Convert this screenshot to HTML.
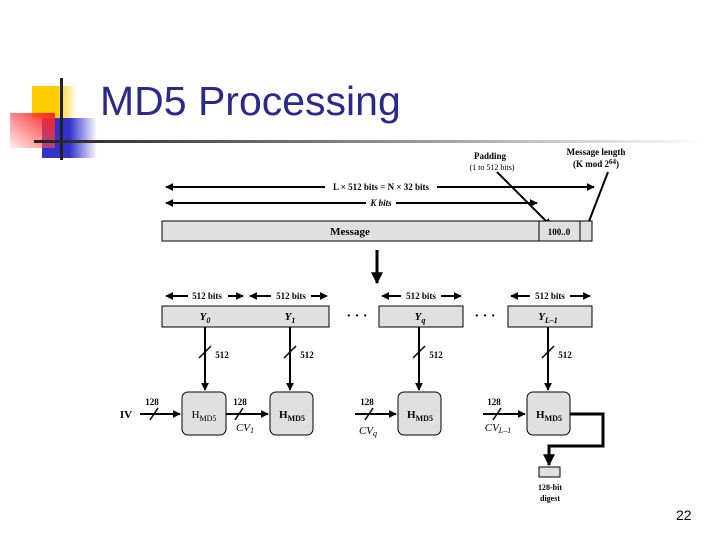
<!DOCTYPE html>
<html><head><style>
body{margin:0;width:720px;height:540px;background:#fff;overflow:hidden;position:relative;font-family:"Liberation Serif",serif}
.a{position:absolute}
</style></head><body>
<div class="a" style="left:32px;top:86px;width:45px;height:32px;background:linear-gradient(to right,#ffcc00 55%,#fff)"></div>
<div class="a" style="left:42px;top:118px;width:55px;height:40px;background:linear-gradient(to right,#3333cc 50%,#fff)"></div>
<div class="a" style="left:10px;top:113px;width:45px;height:35px;background:linear-gradient(to bottom left,#ff2020,rgba(255,200,200,0.3))"></div>
<div class="a" style="left:60px;top:78px;width:3px;height:82px;background:#222"></div>
<div class="a" style="left:34px;top:140px;width:670px;height:3px;background:linear-gradient(to right,#222,#888 50%,#fff)"></div>
<div class="a" style="left:100px;top:78px;font-family:'Liberation Sans',sans-serif;font-size:41px;color:#2a2a8a">MD5 Processing</div>
<div class="a" style="left:676px;top:507px;font-family:'Liberation Sans',sans-serif;font-size:14px">22</div>
<svg class="a" style="left:0;top:0" width="720" height="540" font-family="Liberation Serif" font-weight="bold" font-size="9">
<defs><marker id="m" viewBox="0 0 10 10" refX="9" refY="5" markerWidth="4" markerHeight="4" orient="auto-start-reverse"><path d="M0,0L10,5L0,10z"/></marker></defs>
<g stroke="#000" stroke-width="2" fill="none">
<line x1="166" y1="187" x2="594" y2="187" marker-start="url(#m)" marker-end="url(#m)"/>
<line x1="166" y1="203" x2="537" y2="203" marker-start="url(#m)" marker-end="url(#m)"/>
<line x1="497" y1="172" x2="551" y2="226" marker-end="url(#m)"/>
<line x1="608" y1="172" x2="586" y2="229" marker-end="url(#m)"/>
<line x1="377" y1="250" x2="377" y2="283" stroke-width="3" marker-end="url(#m)"/>
<line x1="166" y1="296" x2="243" y2="296" marker-start="url(#m)" marker-end="url(#m)"/>
<line x1="250" y1="296" x2="327" y2="296" marker-start="url(#m)" marker-end="url(#m)"/>
<line x1="382" y1="296" x2="461" y2="296" marker-start="url(#m)" marker-end="url(#m)"/>
<line x1="511" y1="296" x2="590" y2="296" marker-start="url(#m)" marker-end="url(#m)"/>
<line x1="205" y1="327" x2="205" y2="390" marker-end="url(#m)"/>
<line x1="290" y1="327" x2="290" y2="390" marker-end="url(#m)"/>
<line x1="419" y1="327" x2="419" y2="390" marker-end="url(#m)"/>
<line x1="548" y1="327" x2="548" y2="390" marker-end="url(#m)"/>
<line x1="140" y1="414" x2="180" y2="414" marker-end="url(#m)"/>
<line x1="226" y1="414" x2="268" y2="414" marker-end="url(#m)"/>
<line x1="355" y1="414" x2="396" y2="414" marker-end="url(#m)"/>
<line x1="483" y1="414" x2="525" y2="414" marker-end="url(#m)"/>
<polyline points="570,414 603,414 603,446 549,446 549,465" stroke-width="3" marker-end="url(#m)"/>
</g>
<g stroke="#000" stroke-width="1.5">
<line x1="199" y1="358" x2="211" y2="346"/><line x1="284" y1="358" x2="296" y2="346"/>
<line x1="413" y1="358" x2="425" y2="346"/><line x1="542" y1="358" x2="554" y2="346"/>
<line x1="150" y1="420" x2="158" y2="408"/><line x1="235" y1="420" x2="243" y2="408"/>
<line x1="365" y1="420" x2="373" y2="408"/><line x1="493" y1="420" x2="501" y2="408"/>
</g>
<g fill="#e0e0e0" stroke="#000" stroke-width="1">
<rect x="162" y="221" width="430" height="20"/>
<line x1="539" y1="221" x2="539" y2="241"/><line x1="580" y1="221" x2="580" y2="241"/>
<rect x="162" y="306" width="167" height="21"/>
<rect x="379" y="306" width="84" height="21"/>
<rect x="508" y="306" width="84" height="21"/>
<rect x="182" y="392" width="44" height="43" rx="6"/>
<rect x="270" y="392" width="43" height="43" rx="6"/>
<rect x="398" y="392" width="43" height="43" rx="6"/>
<rect x="527" y="392" width="43" height="43" rx="6"/>
<rect x="539" y="467" width="21" height="10"/>
</g>
<g text-anchor="middle">
<rect x="325" y="181" width="112" height="12" fill="#fff"/>
<text x="381" y="190">L × 512 bits = N × 32 bits</text>
<rect x="366" y="197" width="30" height="12" fill="#fff"/>
<text x="381" y="206" font-style="italic">K bits</text>
<text x="490" y="159">Padding</text>
<text x="492" y="170" font-weight="normal" font-size="8">(1 to 512 bits)</text>
<text x="596" y="155">Message length</text>
<text x="596" y="167">(K mod 2<tspan font-size="7" dy="-3">64</tspan><tspan dy="3">)</tspan></text>
<text x="350" y="235" font-size="11">Message</text>
<text x="559" y="235">100..0</text>
<g fill="#fff"><rect x="188" y="290" width="40" height="12"/><rect x="271" y="290" width="40" height="12"/><rect x="401" y="290" width="40" height="12"/><rect x="530" y="290" width="40" height="12"/></g>
<text x="207" y="299">512 bits</text><text x="291" y="299">512 bits</text><text x="421" y="299">512 bits</text><text x="550" y="299">512 bits</text>
<g font-style="italic" font-size="11"><text x="205" y="320">Y<tspan font-size="8" dy="3">0</tspan></text><text x="290" y="320">Y<tspan font-size="8" dy="3">1</tspan></text><text x="420" y="320">Y<tspan font-size="8" dy="3">q</tspan></text><text x="548" y="320">Y<tspan font-size="8" dy="3">L–1</tspan></text></g>
<text x="357" y="320" font-size="14">· · ·</text><text x="485" y="320" font-size="14">· · ·</text>
<text x="222" y="358">512</text><text x="307" y="358">512</text><text x="436" y="358">512</text><text x="565" y="358">512</text>
<text x="152" y="405">128</text><text x="240" y="405">128</text><text x="367" y="405">128</text><text x="494" y="405">128</text>
<text x="126" y="418" font-size="11">IV</text>
<g font-size="11" font-weight="normal"><text x="204" y="418">H<tspan font-size="8" dy="3">MD5</tspan></text></g>
<g font-size="11"><text x="292" y="418">H<tspan font-size="8" dy="3">MD5</tspan></text><text x="420" y="418">H<tspan font-size="8" dy="3">MD5</tspan></text><text x="549" y="418">H<tspan font-size="8" dy="3">MD5</tspan></text></g>
<g font-style="italic" font-weight="normal" font-size="11"><text x="245" y="431">CV<tspan font-size="8" dy="2">1</tspan></text><text x="368" y="434">CV<tspan font-size="8" dy="2">q</tspan></text><text x="498" y="431">CV<tspan font-size="8" dy="2">L–1</tspan></text></g>
<text x="550" y="490" font-size="8">128-bit</text><text x="550" y="501" font-size="8">digest</text>
</g>
</svg>
</body></html>
